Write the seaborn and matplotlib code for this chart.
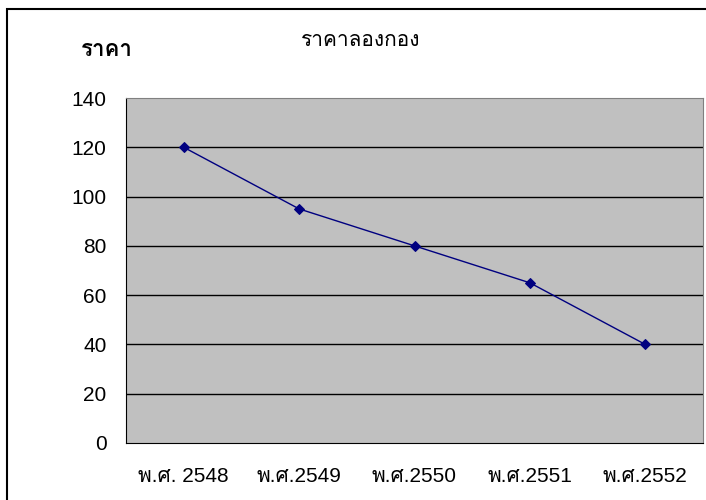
import matplotlib
matplotlib.use('Agg')
import matplotlib.pyplot as plt
import seaborn as sns
import pandas as pd
from matplotlib import font_manager, ft2font
from matplotlib.patches import Rectangle

# data
years = ['พ.ศ. 2548', 'พ.ศ.2549', 'พ.ศ.2550', 'พ.ศ.2551', 'พ.ศ.2552']
prices = [120, 95, 80, 65, 40]
y_ticks = [0, 20, 40, 60, 80, 100, 120, 140]
chart_title = 'ราคาลองกอง'
y_title = 'ราคา'

# look for any installed font that has Thai glyphs
thai_font = None
for f in font_manager.fontManager.ttflist:
    try:
        if ord('ร') in ft2font.FT2Font(f.fname).get_charmap():
            thai_font = f.name
            break
    except Exception:
        pass

sns.set_style('white')
fams = ['Liberation Sans']
if thai_font:
    fams.append(thai_font)
fams.append('DejaVu Sans')
plt.rcParams['font.family'] = fams
plt.rcParams['text.color'] = 'black'
plt.rcParams['xtick.color'] = 'black'
plt.rcParams['ytick.color'] = 'black'

df = pd.DataFrame({'pos': range(len(years)), 'price': prices})

fig = plt.figure(figsize=(7.06, 5.0), dpi=100)
ax = fig.add_axes([126 / 706, 1 - 443 / 500, 577 / 706, 345 / 500])
ax.set_facecolor('#C0C0C0')

for t in y_ticks[1:-1]:
    ax.axhline(t, color='black', lw=1, zorder=1)

sns.lineplot(data=df, x='pos', y='price', color='#000080', marker='D',
             markersize=5.5, markeredgecolor='#000080', lw=1, ax=ax, zorder=3)

ax.set_xlim(-0.5, len(years) - 0.5)
ax.set_ylim(0, 140)
ax.set_yticks(y_ticks)
ax.set_xticks([i - 0.5 for i in range(len(years) + 1)])
ax.set_xticklabels([])
ax.set_xticks(range(len(years)), minor=True)
ax.set_xticklabels(years, minor=True)
ax.tick_params(axis='x', which='major', direction='out', length=5, width=1)
ax.tick_params(axis='x', which='minor', length=0, pad=17, labelsize=15)
ax.tick_params(axis='y', direction='out', length=6, width=1, labelsize=15, pad=8)
ax.set_xlabel('')
ax.set_ylabel('')

ax.spines['left'].set_color('black')
ax.spines['bottom'].set_color('black')
ax.spines['top'].set_color('#808080')
ax.spines['right'].set_color('#808080')

fig.text(361 / 706, 1 - 41 / 500, chart_title, ha='center', va='center', fontsize=15)
fig.text(107 / 706, 1 - 51 / 500, y_title, ha='center', va='center', fontsize=16, fontweight='bold')

# outer chart border
fig.patches.append(Rectangle((7 / 706, -0.1), 1.2, 1 - 9 / 500 + 0.1, transform=fig.transFigure,
                             fill=False, edgecolor='black', lw=1.5))

fig.savefig('out.png', dpi=100)
